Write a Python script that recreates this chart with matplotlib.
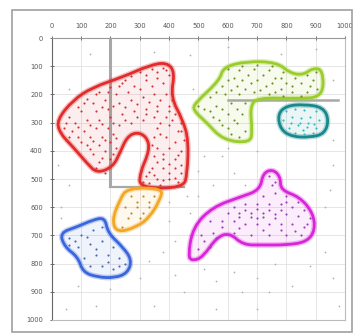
import numpy as np
import matplotlib.pyplot as plt
from matplotlib.path import Path
from matplotlib.patches import PathPatch, Rectangle

ticks = [0, 100, 200, 300, 400, 500, 600, 700, 800, 900, 1000]

# cluster outlines (data coords, y grows downward)
red_hull = [(17, 291), (72, 220), (140, 174), (242, 138), (334, 96), (392, 86), (420, 120),
            (405, 209), (447, 291), (466, 362), (462, 479), (449, 532), (300, 532),
            (300, 479), (334, 397), (324, 351), (290, 333), (256, 351), (232, 408),
            (208, 457), (154, 480), (119, 443), (72, 386), (27, 337)]
green_hull = [(488, 231), (573, 149), (584, 103), (665, 82), (768, 86), (812, 124), (857, 131),
              (891, 106), (925, 113), (925, 209), (836, 215), (700, 211), (676, 245),
              (684, 330), (676, 372), (584, 362), (529, 301), (481, 255)]
teal_hull = [(770, 270), (800, 240), (860, 235), (925, 245), (945, 290), (930, 340),
             (880, 352), (820, 350), (780, 325)]
magenta_hull = [(464, 777), (481, 670), (549, 599), (642, 564), (710, 539), (720, 479),
                (754, 465), (780, 493), (780, 539), (846, 564), (891, 621), (898, 681),
                (870, 723), (802, 734), (720, 734), (652, 734), (607, 691), (563, 706),
                (515, 777), (481, 790)]
orange_hull = [(256, 532), (379, 532), (369, 574), (334, 635), (290, 670), (222, 691),
               (205, 645), (232, 574)]
blue_hull = [(27, 691), (85, 670), (140, 645), (181, 636), (191, 691), (242, 741), (273, 787),
             (259, 833), (215, 851), (154, 848), (106, 830), (89, 777), (44, 741)]

# cluster members
red_x = [250, 300, 340, 380, 400, 360, 320, 280, 230, 190, 150, 110, 140, 180, 220, 260, 300, 340,
         380, 410, 390, 350, 310, 270, 230, 190, 150, 100, 60, 50, 80, 120, 160, 200, 240, 280, 320,
         360, 400, 420, 390, 350, 310, 270, 230, 190, 150, 110, 70, 90, 130, 170, 210, 360, 400, 430,
         440, 120, 160, 200, 140, 180, 220, 160, 200, 190, 150, 350, 390, 420, 360, 400, 440, 350,
         380, 420, 340, 380, 420, 440, 320, 360, 400, 430, 330, 370,
         270, 320, 360, 390, 240, 200, 160, 120, 90, 170, 210, 250, 290, 330, 370, 410, 400, 360,
         320, 290, 250, 210, 170, 130, 90, 40, 60, 100, 140, 180, 220, 130, 170, 210, 180, 370,
         410, 440, 450, 370, 340, 380, 430, 360, 400, 440, 330, 400, 350, 420, 310, 380]
red_y = [150, 120, 110, 105, 130, 140, 150, 170, 170, 190, 200, 230, 230, 220, 200, 190, 180, 170,
         160, 170, 200, 200, 210, 220, 230, 250, 260, 260, 280, 300, 300, 290, 290, 280, 270, 260, 250,
         240, 240, 270, 280, 280, 290, 300, 310, 320, 320, 330, 330, 350, 350, 350, 340, 320, 310, 330,
         300, 380, 380, 370, 410, 400, 390, 440, 430, 460, 460, 350, 350, 370, 390, 390, 400, 420,
         430, 430, 460, 460, 460, 480, 490, 500, 500, 510, 515, 520,
         135, 130, 120, 115, 160, 175, 190, 215, 245, 245, 240, 245, 235, 225, 220, 220, 260, 260,
         270, 280, 290, 300, 305, 310, 315, 320, 350, 370, 365, 360, 355, 395, 425, 410, 480, 300,
         290, 330, 360, 340, 380, 410, 415, 440, 445, 450, 475, 480, 485, 495, 510, 505]
green_x = [600, 650, 700, 750, 790, 830, 870, 900, 620, 670, 720, 760, 800, 850, 890, 580, 630, 680,
           730, 780, 820, 870, 905, 540, 590, 640, 690, 740, 790, 520, 560, 610, 660, 550, 600, 650,
           580, 630, 660, 610,
           640, 690, 740, 780, 820, 880, 600, 650, 700, 750, 560, 610, 660, 710, 760, 850, 500, 540,
           580, 630, 570, 620, 600, 640]
green_y = [110, 100, 95, 100, 120, 140, 130, 120, 140, 130, 130, 140, 160, 160, 150, 170, 170, 160,
           170, 180, 190, 190, 180, 210, 200, 200, 190, 200, 205, 250, 240, 230, 230, 280, 270, 270,
           310, 300, 330, 340,
           115, 110, 115, 140, 170, 170, 150, 150, 150, 160, 190, 185, 180, 185, 190, 205, 240, 260,
           250, 250, 290, 290, 320, 350]
teal_x = [800, 830, 860, 900, 790, 820, 850, 880, 910, 810, 840, 870, 900, 830, 860, 890,
          815, 845, 875, 895, 855]
teal_y = [260, 250, 255, 260, 290, 280, 285, 280, 290, 320, 310, 315, 320, 335, 340, 335,
          300, 300, 300, 305, 325]
magenta_x = [740, 760, 720, 760, 800, 840, 660, 700, 740, 780, 820, 860, 600, 640, 680, 720, 760,
             800, 840, 880, 540, 580, 620, 660, 700, 740, 780, 820, 860, 510, 550, 620, 680, 740,
             800, 850, 500, 540,
             620, 660, 700, 740, 780, 640, 680, 720, 760, 700, 580, 640, 720, 780, 830, 870, 520,
             560, 750, 800]
magenta_y = [490, 510, 560, 550, 560, 580, 590, 590, 590, 590, 600, 610, 620, 620, 620, 620, 625,
             625, 630, 640, 650, 650, 650, 660, 660, 660, 660, 660, 670, 700, 690, 690, 700, 700,
             700, 700, 750, 740,
             600, 610, 605, 610, 610, 635, 635, 635, 640, 640, 670, 675, 680, 680, 685, 660, 720,
             710, 520, 580]
orange_x = [270, 310, 350, 250, 290, 330, 260, 300, 240, 290, 330, 270, 310]
orange_y = [560, 560, 560, 600, 600, 600, 640, 640, 670, 580, 580, 620, 620]
blue_x = [60, 100, 140, 170, 90, 130, 170, 210, 110, 150, 190, 230, 130, 170, 210, 250,
          80, 120, 150, 190, 230, 60]
blue_y = [710, 700, 680, 670, 740, 730, 720, 740, 780, 770, 770, 780, 810, 810, 820, 800,
          720, 705, 750, 795, 810, 735]

# noise
noise_x = [130, 350, 470, 600, 780, 900, 60, 480, 960, 20, 60, 500, 520, 580, 600, 700, 960, 960,
           550, 620, 660, 460, 30, 400, 470, 420, 470, 90, 200, 300, 330, 380, 420, 450, 520, 560,
           620, 650, 700, 740, 760, 820, 880, 930, 960, 980, 560, 350, 150, 700, 930, 950, 30, 50,
           400, 500]
noise_y = [55, 50, 60, 30, 55, 40, 180, 180, 150, 450, 520, 470, 420, 420, 390, 400, 360, 450,
           520, 480, 520, 560, 600, 650, 620, 720, 700, 880, 890, 850, 790, 760, 840, 900, 820, 860,
           830, 900, 850, 900, 800, 880, 810, 760, 850, 950, 960, 950, 950, 960, 600, 540, 640, 960,
           580, 560]

clusters = [
    (red_hull, red_x, red_y, '#e32b2b', '#d23434'),
    (green_hull, green_x, green_y, '#9acd2a', '#6f8f1e'),
    (teal_hull, teal_x, teal_y, '#17888c', '#2fbcc2'),
    (magenta_hull, magenta_x, magenta_y, '#d925d9', '#9b3fb5'),
    (orange_hull, orange_x, orange_y, '#f5a623', '#c0882a'),
    (blue_hull, blue_x, blue_y, '#3a66dd', '#4a6ab0'),
]


def smooth_path(pts):
    # closed quadratic b-spline through midpoints
    n = len(pts)
    mid = lambda a, b: ((a[0] + b[0]) / 2, (a[1] + b[1]) / 2)
    verts = [mid(pts[-1], pts[0])]
    codes = [Path.MOVETO]
    for i in range(n):
        verts += [pts[i], mid(pts[i], pts[(i + 1) % n])]
        codes += [Path.CURVE3, Path.CURVE3]
    return Path(verts, codes)


fig = plt.figure(figsize=(3.55, 3.34), dpi=100)
ax = fig.add_axes([0.146, 0.042, 0.826, 0.844])

fig.patches.append(Rectangle((0.034, 0.006), 0.958, 0.964, transform=fig.transFigure,
                             fill=False, edgecolor='#a0a0a0', linewidth=1.2))

ax.set_xlim(0, 1000)
ax.set_ylim(1000, 0)
ax.set_xticks(ticks)
ax.set_yticks(ticks)
ax.xaxis.tick_top()
ax.tick_params(labelsize=4.8, colors='#555555', length=3, width=0.6, direction='inout', pad=5)
ax.grid(True, color='#e2e2e2', linewidth=0.6)
ax.set_axisbelow(True)
for s in ax.spines.values():
    s.set_color('#bbbbbb')
    s.set_linewidth(0.8)
ax.spines['left'].set_color('#666666')
ax.spines['top'].set_color('#999999')

ax.scatter(noise_x, noise_y, s=1.6, color='#b0b0b0', linewidths=0, zorder=2)

# gray guide lines
ax.plot([200, 200], [0, 520], color='#a8a8a8', linewidth=2.2, zorder=2)
ax.plot([200, 450], [530, 530], color='#a8a8a8', linewidth=1.6, zorder=2)
ax.plot([600, 975], [220, 220], color='#a8a8a8', linewidth=1.8, zorder=2)

for hull, px, py, edge, dot in clusters:
    path = smooth_path(hull)
    ax.add_patch(PathPatch(path, facecolor=edge, alpha=0.08, edgecolor='none', zorder=3))
    ax.add_patch(PathPatch(path, facecolor='none', edgecolor=edge, alpha=0.3, linewidth=4, zorder=4))
    ax.add_patch(PathPatch(path, facecolor='none', edgecolor=edge, linewidth=2, zorder=5))
    ax.scatter(px, py, s=2.4, color=dot, linewidths=0, zorder=6)

fig.savefig('out.png', dpi=100)
